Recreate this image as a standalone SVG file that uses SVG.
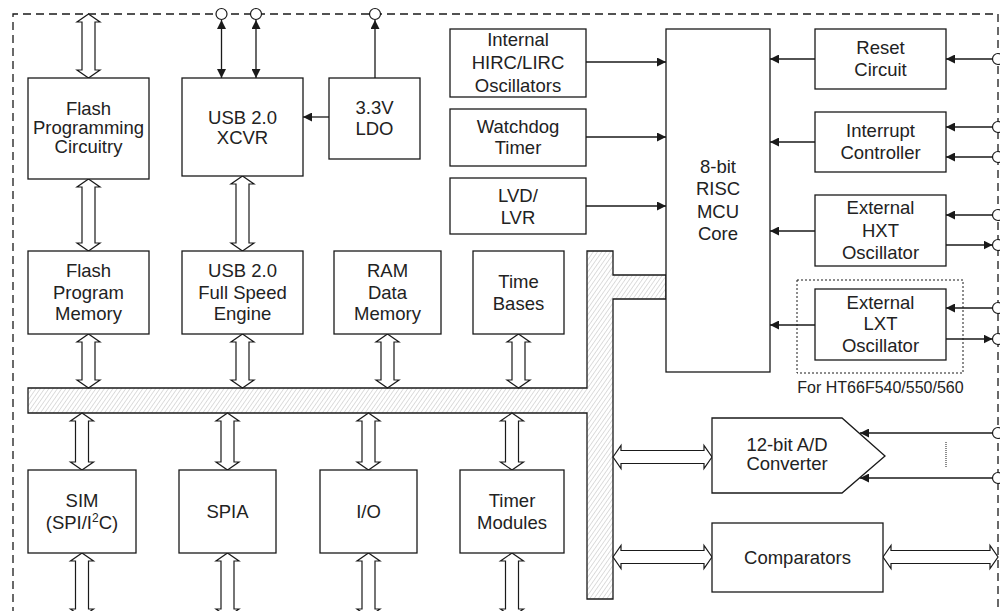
<svg xmlns="http://www.w3.org/2000/svg" width="1000" height="611" viewBox="0 0 1000 611">
<style>
.box{fill:#fff;stroke:#1a1a1a;stroke-width:1.3}
.t{font-family:"Liberation Sans",Arial,sans-serif;font-size:18.5px;fill:#222;text-anchor:middle}
.s{font-family:"Liberation Sans",Arial,sans-serif;font-size:16px;fill:#222;text-anchor:middle}
.ln{fill:none;stroke:#1a1a1a;stroke-width:1.3}
.ha{fill:#fff;stroke:#1a1a1a;stroke-width:1.2}
.pin{fill:#fff;stroke:#1a1a1a;stroke-width:1.2}
</style>
<defs>
<marker id="ah" viewBox="0 0 10 10" refX="10" refY="5" markerWidth="9" markerHeight="9" markerUnits="userSpaceOnUse" orient="auto-start-reverse"><path d="M0,0 L10,5 L0,10 Z" fill="#1a1a1a"/></marker>
<pattern id="hatch" width="3.5" height="4" patternUnits="userSpaceOnUse" patternTransform="rotate(35)"><rect width="3.5" height="4" fill="#fff"/><line x1="0" y1="0" x2="0" y2="4" stroke="#bdbdbd" stroke-width="1"/></pattern>
</defs>

<path id="border" d="M13,615 V14 H998 V615" fill="none" stroke="#1a1a1a" stroke-width="1.3" stroke-dasharray="8,5"/>

<g id="bus"><path d="M28,388 H587 V251 H613 V275 H666 V299 H613 V599 H587 V413 H28 Z" fill="url(#hatch)" stroke="#1a1a1a" stroke-width="1.3"/></g>

<g id="connectors">
<path class="ha" d="M88.5,14 L100,22 H95 V70 H100 L88.5,78 L77,70 H82 V22 H77 Z"/>
<path class="ha" d="M88.5,179 L100,187 H95 V243 H100 L88.5,251 L77,243 H82 V187 H77 Z"/>
<path class="ha" d="M242.5,176 L254,184 H249 V243 H254 L242.5,251 L231,243 H236 V184 H231 Z"/>
<path class="ha" d="M88.5,334 L100,342 H95 V380 H100 L88.5,388 L77,380 H82 V342 H77 Z"/>
<path class="ha" d="M242.5,334 L254,342 H249 V380 H254 L242.5,388 L231,380 H236 V342 H231 Z"/>
<path class="ha" d="M387.5,334 L399,342 H394 V380 H399 L387.5,388 L376,380 H381 V342 H376 Z"/>
<path class="ha" d="M518.5,334 L530,342 H525 V380 H530 L518.5,388 L507,380 H512 V342 H507 Z"/>
<path class="ha" d="M82,413 L93.5,421 H88.5 V462 H93.5 L82,470 L70.5,462 H75.5 V421 H70.5 Z"/>
<path class="ha" d="M227.5,413 L239,421 H234 V462 H239 L227.5,470 L216,462 H221 V421 H216 Z"/>
<path class="ha" d="M368.5,413 L380,421 H375 V462 H380 L368.5,470 L357,462 H362 V421 H357 Z"/>
<path class="ha" d="M512,413 L523.5,421 H518.5 V462 H523.5 L512,470 L500.5,462 H505.5 V421 H500.5 Z"/>
<path class="ha" d="M82,553 L93.5,561 H88.5 V609 H93.5 L82,617 L70.5,609 H75.5 V561 H70.5 Z"/>
<path class="ha" d="M227.5,553 L239,561 H234 V609 H239 L227.5,617 L216,609 H221 V561 H216 Z"/>
<path class="ha" d="M368.5,553 L380,561 H375 V609 H380 L368.5,617 L357,609 H362 V561 H357 Z"/>
<path class="ha" d="M512,553 L523.5,561 H518.5 V609 H523.5 L512,617 L500.5,609 H505.5 V561 H500.5 Z"/>
<path class="ha" d="M613,457 L621,445.5 V450.5 H704 V445.5 L712,457 L704,468.5 V463.5 H621 V468.5 Z"/>
<path class="ha" d="M613,557 L621,545.5 V550.5 H704 V545.5 L712,557 L704,568.5 V563.5 H621 V568.5 Z"/>
<path class="ha" d="M883,557 L891,545.5 V550.5 H990 V545.5 L998,557 L990,568.5 V563.5 H891 V568.5 Z"/>
<line class="ln" x1="221.5" y1="20" x2="221.5" y2="78" marker-start="url(#ah)" marker-end="url(#ah)"/>
<line class="ln" x1="256" y1="20" x2="256" y2="78" marker-start="url(#ah)" marker-end="url(#ah)"/>
<line class="ln" x1="375" y1="78" x2="375" y2="20" marker-end="url(#ah)"/>
<line class="ln" x1="329" y1="117" x2="303" y2="117" marker-end="url(#ah)"/>
<line class="ln" x1="586" y1="62" x2="666" y2="62" marker-end="url(#ah)"/>
<line class="ln" x1="586" y1="137" x2="666" y2="137" marker-end="url(#ah)"/>
<line class="ln" x1="586" y1="206" x2="666" y2="206" marker-end="url(#ah)"/>
<line class="ln" x1="815" y1="59" x2="770" y2="59" marker-end="url(#ah)"/>
<line class="ln" x1="815" y1="142" x2="770" y2="142" marker-end="url(#ah)"/>
<line class="ln" x1="815" y1="231" x2="770" y2="231" marker-end="url(#ah)"/>
<line class="ln" x1="815" y1="325" x2="770" y2="325" marker-end="url(#ah)"/>
<line class="ln" x1="992.5" y1="59" x2="946" y2="59" marker-end="url(#ah)"/>
<line class="ln" x1="992.5" y1="127" x2="946" y2="127" marker-end="url(#ah)"/>
<line class="ln" x1="992.5" y1="157" x2="946" y2="157" marker-end="url(#ah)"/>
<line class="ln" x1="992.5" y1="215" x2="946" y2="215" marker-end="url(#ah)"/>
<line class="ln" x1="946" y1="245" x2="992.5" y2="245" marker-end="url(#ah)"/>
<line class="ln" x1="992.5" y1="308" x2="946" y2="308" marker-end="url(#ah)"/>
<line class="ln" x1="946" y1="339" x2="992.5" y2="339" marker-end="url(#ah)"/>
<line class="ln" x1="992.5" y1="433" x2="860" y2="433" marker-end="url(#ah)"/>
<line class="ln" x1="992.5" y1="478" x2="860" y2="478" marker-end="url(#ah)"/>
<line x1="946" y1="442" x2="946" y2="468" stroke="#1a1a1a" stroke-width="1" stroke-dasharray="1,1"/>
</g>

<g id="pins">
<circle class="pin" cx="221.5" cy="14" r="5.5"/>
<circle class="pin" cx="256" cy="14" r="5.5"/>
<circle class="pin" cx="375" cy="14" r="5.5"/>
<circle class="pin" cx="998" cy="59" r="5.5"/>
<circle class="pin" cx="998" cy="127" r="5.5"/>
<circle class="pin" cx="998" cy="157" r="5.5"/>
<circle class="pin" cx="998" cy="215" r="5.5"/>
<circle class="pin" cx="998" cy="245" r="5.5"/>
<circle class="pin" cx="998" cy="308" r="5.5"/>
<circle class="pin" cx="998" cy="339" r="5.5"/>
<circle class="pin" cx="998" cy="433" r="5.5"/>
<circle class="pin" cx="998" cy="478" r="5.5"/>
</g>

<g id="flash-prog-circ"><rect class="box" x="28" y="78" width="121" height="101"/>
<text class="t" x="88.5" y="115">Flash</text><text class="t" x="88.5" y="134">Programming</text><text class="t" x="88.5" y="153">Circuitry</text></g>

<g id="usb-xcvr"><rect class="box" x="182" y="78" width="121" height="98"/>
<text class="t" x="242.5" y="123.5">USB 2.0</text><text class="t" x="242.5" y="143.5">XCVR</text></g>

<g id="ldo"><rect class="box" x="329" y="78" width="91" height="81"/>
<text class="t" x="374.5" y="113.5">3.3V</text><text class="t" x="374.5" y="134.5">LDO</text></g>

<g id="hirc"><rect class="box" x="450" y="29" width="136" height="68"/>
<text class="t" x="518" y="45.5">Internal</text><text class="t" x="518" y="68.5">HIRC/LIRC</text><text class="t" x="518" y="91.5">Oscillators</text></g>

<g id="wdt"><rect class="box" x="450" y="109" width="136" height="57"/>
<text class="t" x="518" y="132.5">Watchdog</text><text class="t" x="518" y="153.5">Timer</text></g>

<g id="lvd"><rect class="box" x="450" y="178" width="136" height="56"/>
<text class="t" x="518" y="201.5">LVD/</text><text class="t" x="518" y="223.5">LVR</text></g>

<g id="mcu"><rect class="box" x="666" y="29" width="104" height="343"/>
<text class="t" x="718" y="172.5">8-bit</text><text class="t" x="718" y="194.5">RISC</text><text class="t" x="718" y="217.5">MCU</text><text class="t" x="718" y="239.5">Core</text></g>

<g id="reset"><rect class="box" x="815" y="29" width="131" height="60"/>
<text class="t" x="880.5" y="53.5">Reset</text><text class="t" x="880.5" y="75.5">Circuit</text></g>

<g id="interrupt"><rect class="box" x="815" y="112" width="131" height="60"/>
<text class="t" x="880.5" y="136.5">Interrupt</text><text class="t" x="880.5" y="158.5">Controller</text></g>

<g id="hxt"><rect class="box" x="815" y="195" width="131" height="71"/>
<text class="t" x="880.5" y="213.5">External</text><text class="t" x="880.5" y="236.5">HXT</text><text class="t" x="880.5" y="258.5">Oscillator</text></g>

<g id="lxt"><rect x="797" y="280" width="166" height="93" fill="none" stroke="#1a1a1a" stroke-width="1" stroke-dasharray="2,2"/>
<rect class="box" x="815" y="289" width="131" height="71"/>
<text class="t" x="880.5" y="308.5">External</text><text class="t" x="880.5" y="329.5">LXT</text><text class="t" x="880.5" y="351.5">Oscillator</text>
<text class="s" x="880.5" y="393">For HT66F540/550/560</text></g>

<g id="flash-mem"><rect class="box" x="28" y="251" width="121" height="83"/>
<text class="t" x="88.5" y="276.5">Flash</text><text class="t" x="88.5" y="298.5">Program</text><text class="t" x="88.5" y="319.5">Memory</text></g>

<g id="usb-fse"><rect class="box" x="182" y="251" width="121" height="83"/>
<text class="t" x="242.5" y="276.5">USB 2.0</text><text class="t" x="242.5" y="298.5">Full Speed</text><text class="t" x="242.5" y="319.5">Engine</text></g>

<g id="ram"><rect class="box" x="334" y="251" width="107" height="83"/>
<text class="t" x="387.5" y="276.5">RAM</text><text class="t" x="387.5" y="298.5">Data</text><text class="t" x="387.5" y="319.5">Memory</text></g>

<g id="timebases"><rect class="box" x="473" y="251" width="91" height="83"/>
<text class="t" x="518.5" y="287.5">Time</text><text class="t" x="518.5" y="309.5">Bases</text></g>

<g id="sim"><rect class="box" x="28" y="470" width="108" height="83"/>
<text class="t" x="82" y="506.5">SIM</text><text class="t" x="82" y="528.5">(SPI/I<tspan font-size="12" dy="-7">2</tspan><tspan dy="7">C)</tspan></text></g>

<g id="spia"><rect class="box" x="179" y="470" width="97" height="83"/>
<text class="t" x="227.5" y="517.5">SPIA</text></g>

<g id="io"><rect class="box" x="320" y="470" width="97" height="83"/>
<text class="t" x="368.5" y="517.5">I/O</text></g>

<g id="timers"><rect class="box" x="460" y="470" width="104" height="83"/>
<text class="t" x="512" y="506.5">Timer</text><text class="t" x="512" y="528.5">Modules</text></g>

<g id="adc"><path class="box" d="M712,418 H842 L885,456 L842,493 H712 Z"/>
<text class="t" x="787" y="450.5">12-bit A/D</text><text class="t" x="787" y="469.5">Converter</text></g>

<g id="comparators"><rect class="box" x="712" y="523" width="171" height="69"/>
<text class="t" x="797.5" y="563.5">Comparators</text></g>
</svg>
